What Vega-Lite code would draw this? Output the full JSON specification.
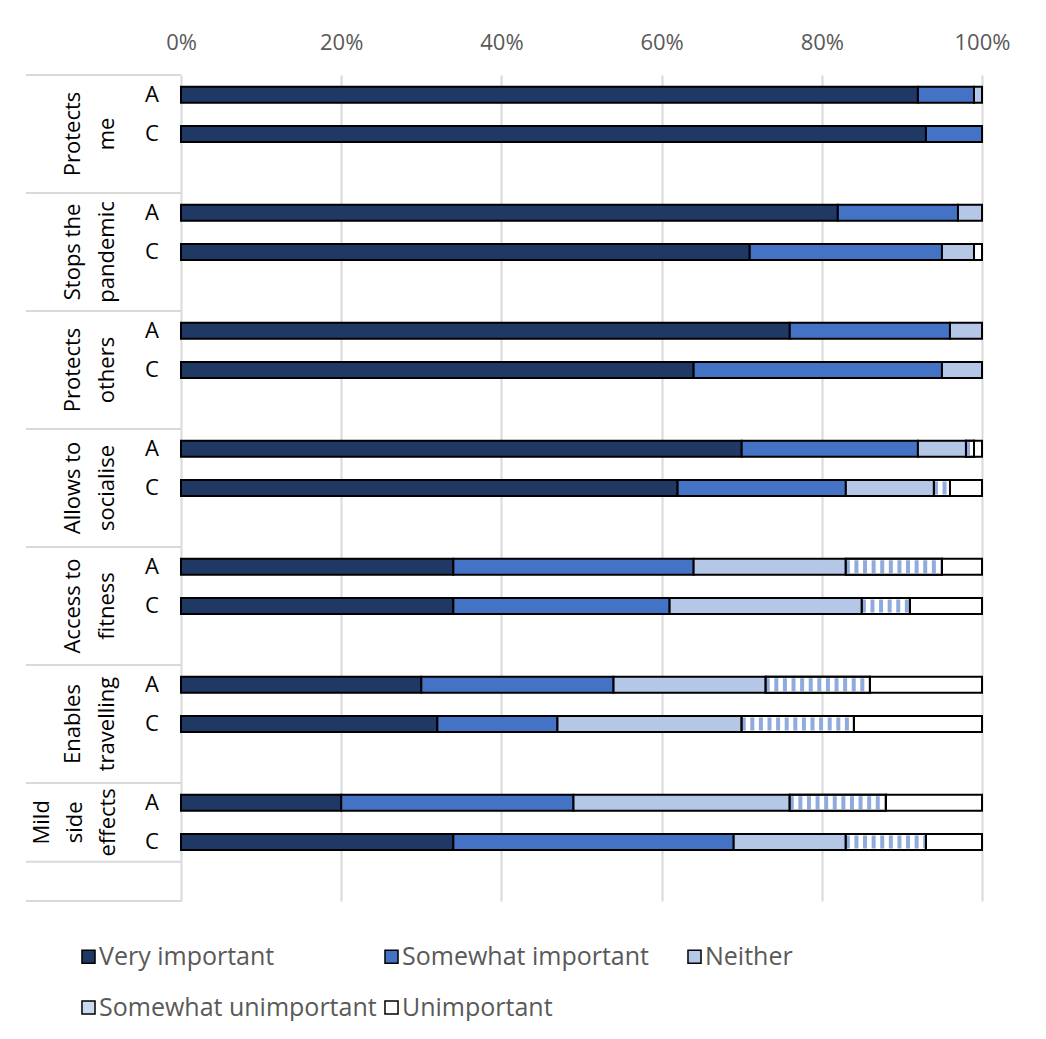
{
  "$schema": "https://vega.github.io/schema/vega-lite/v6.json",
  "background": "white",
  "padding": {"left": 25, "top": 31, "right": 0, "bottom": 0},
  "spacing": 0,
  "bounds": "flush",
  "config": {"view": {"stroke": null}, "font": "Open Sans"},
  "datasets": {
    "bars": [
      {"group": "Protects me", "set": "A", "level": "Very important", "value": 92},
      {"group": "Protects me", "set": "A", "level": "Somewhat important", "value": 7},
      {"group": "Protects me", "set": "A", "level": "Neither", "value": 1},
      {"group": "Protects me", "set": "C", "level": "Very important", "value": 93},
      {"group": "Protects me", "set": "C", "level": "Somewhat important", "value": 7},
      {"group": "Stops the pandemic", "set": "A", "level": "Very important", "value": 82},
      {"group": "Stops the pandemic", "set": "A", "level": "Somewhat important", "value": 15},
      {"group": "Stops the pandemic", "set": "A", "level": "Neither", "value": 3},
      {"group": "Stops the pandemic", "set": "C", "level": "Very important", "value": 71},
      {"group": "Stops the pandemic", "set": "C", "level": "Somewhat important", "value": 24},
      {"group": "Stops the pandemic", "set": "C", "level": "Neither", "value": 4},
      {"group": "Stops the pandemic", "set": "C", "level": "Unimportant", "value": 1},
      {"group": "Protects others", "set": "A", "level": "Very important", "value": 76},
      {"group": "Protects others", "set": "A", "level": "Somewhat important", "value": 20},
      {"group": "Protects others", "set": "A", "level": "Neither", "value": 4},
      {"group": "Protects others", "set": "C", "level": "Very important", "value": 64},
      {"group": "Protects others", "set": "C", "level": "Somewhat important", "value": 31},
      {"group": "Protects others", "set": "C", "level": "Neither", "value": 5},
      {"group": "Allows to socialise", "set": "A", "level": "Very important", "value": 70},
      {"group": "Allows to socialise", "set": "A", "level": "Somewhat important", "value": 22},
      {"group": "Allows to socialise", "set": "A", "level": "Neither", "value": 6},
      {"group": "Allows to socialise", "set": "A", "level": "Somewhat unimportant", "value": 1},
      {"group": "Allows to socialise", "set": "A", "level": "Unimportant", "value": 1},
      {"group": "Allows to socialise", "set": "C", "level": "Very important", "value": 62},
      {"group": "Allows to socialise", "set": "C", "level": "Somewhat important", "value": 21},
      {"group": "Allows to socialise", "set": "C", "level": "Neither", "value": 11},
      {"group": "Allows to socialise", "set": "C", "level": "Somewhat unimportant", "value": 2},
      {"group": "Allows to socialise", "set": "C", "level": "Unimportant", "value": 4},
      {"group": "Access to fitness", "set": "A", "level": "Very important", "value": 34},
      {"group": "Access to fitness", "set": "A", "level": "Somewhat important", "value": 30},
      {"group": "Access to fitness", "set": "A", "level": "Neither", "value": 19},
      {"group": "Access to fitness", "set": "A", "level": "Somewhat unimportant", "value": 12},
      {"group": "Access to fitness", "set": "A", "level": "Unimportant", "value": 5},
      {"group": "Access to fitness", "set": "C", "level": "Very important", "value": 34},
      {"group": "Access to fitness", "set": "C", "level": "Somewhat important", "value": 27},
      {"group": "Access to fitness", "set": "C", "level": "Neither", "value": 24},
      {"group": "Access to fitness", "set": "C", "level": "Somewhat unimportant", "value": 6},
      {"group": "Access to fitness", "set": "C", "level": "Unimportant", "value": 9},
      {"group": "Enables travelling", "set": "A", "level": "Very important", "value": 30},
      {"group": "Enables travelling", "set": "A", "level": "Somewhat important", "value": 24},
      {"group": "Enables travelling", "set": "A", "level": "Neither", "value": 19},
      {"group": "Enables travelling", "set": "A", "level": "Somewhat unimportant", "value": 13},
      {"group": "Enables travelling", "set": "A", "level": "Unimportant", "value": 14},
      {"group": "Enables travelling", "set": "C", "level": "Very important", "value": 32},
      {"group": "Enables travelling", "set": "C", "level": "Somewhat important", "value": 15},
      {"group": "Enables travelling", "set": "C", "level": "Neither", "value": 23},
      {"group": "Enables travelling", "set": "C", "level": "Somewhat unimportant", "value": 14},
      {"group": "Enables travelling", "set": "C", "level": "Unimportant", "value": 16},
      {"group": "Mild side effects", "set": "A", "level": "Very important", "value": 20},
      {"group": "Mild side effects", "set": "A", "level": "Somewhat important", "value": 29},
      {"group": "Mild side effects", "set": "A", "level": "Neither", "value": 27},
      {"group": "Mild side effects", "set": "A", "level": "Somewhat unimportant", "value": 12},
      {"group": "Mild side effects", "set": "A", "level": "Unimportant", "value": 12},
      {"group": "Mild side effects", "set": "C", "level": "Very important", "value": 34},
      {"group": "Mild side effects", "set": "C", "level": "Somewhat important", "value": 35},
      {"group": "Mild side effects", "set": "C", "level": "Neither", "value": 14},
      {"group": "Mild side effects", "set": "C", "level": "Somewhat unimportant", "value": 10},
      {"group": "Mild side effects", "set": "C", "level": "Unimportant", "value": 7}
    ],
    "rows": [
      {"group": "Protects me", "set": "A"}, {"group": "Protects me", "set": "C"},
      {"group": "Stops the pandemic", "set": "A"}, {"group": "Stops the pandemic", "set": "C"},
      {"group": "Protects others", "set": "A"}, {"group": "Protects others", "set": "C"},
      {"group": "Allows to socialise", "set": "A"}, {"group": "Allows to socialise", "set": "C"},
      {"group": "Access to fitness", "set": "A"}, {"group": "Access to fitness", "set": "C"},
      {"group": "Enables travelling", "set": "A"}, {"group": "Enables travelling", "set": "C"},
      {"group": "Mild side effects", "set": "A"}, {"group": "Mild side effects", "set": "C"}
    ],
    "groups": [
      {"group": "Protects me", "label": "Protects\nme"},
      {"group": "Stops the pandemic", "label": "Stops the\npandemic"},
      {"group": "Protects others", "label": "Protects\nothers"},
      {"group": "Allows to socialise", "label": "Allows to\nsocialise"},
      {"group": "Access to fitness", "label": "Access to\nfitness"},
      {"group": "Enables travelling", "label": "Enables\ntravelling"},
      {"group": "Mild side effects", "label": "Mild\nside\neffects"}
    ]
  },
  "hconcat": [
    {
      "width": 155,
      "height": 826,
      "layer": [
        {
          "data": {"name": "groups"},
          "transform": [{"calculate": "datum.group + ' A'", "as": "key"}],
          "mark": {"type": "rule", "stroke": "#D9D9D9", "strokeWidth": 2},
          "encoding": {
            "y": {"field": "key", "type": "nominal", "bandPosition": 0, "axis": null,
              "scale": {"type": "band", "paddingInner": 0, "paddingOuter": 0, "domain": ["Protects me A","Protects me C","Protects me gap","Stops the pandemic A","Stops the pandemic C","Stops the pandemic gap","Protects others A","Protects others C","Protects others gap","Allows to socialise A","Allows to socialise C","Allows to socialise gap","Access to fitness A","Access to fitness C","Access to fitness gap","Enables travelling A","Enables travelling C","Enables travelling gap","Mild side effects A","Mild side effects C","Mild side effects gap"]}}
          }
        },
        {
          "data": {"name": "groups"},
          "transform": [{"filter": "datum.group === 'Mild side effects'"}, {"calculate": "datum.group + ' gap'", "as": "key"}],
          "mark": {"type": "rule", "stroke": "#D9D9D9", "strokeWidth": 2},
          "encoding": {"y": {"field": "key", "type": "nominal", "bandPosition": 0, "axis": null}}
        },
        {
          "data": {"name": "groups"},
          "transform": [{"filter": "datum.group === 'Mild side effects'"}, {"calculate": "datum.group + ' gap'", "as": "key"}],
          "mark": {"type": "rule", "stroke": "#D9D9D9", "strokeWidth": 2},
          "encoding": {"y": {"field": "key", "type": "nominal", "bandPosition": 1, "axis": null}}
        },
        {
          "data": {"name": "rows"},
          "transform": [{"calculate": "datum.group + ' ' + datum.set", "as": "key"}],
          "mark": {"type": "text", "fontSize": 22, "font": "Open Sans", "color": "black", "align": "center", "baseline": "middle"},
          "encoding": {
            "y": {"field": "key", "type": "nominal", "axis": null},
            "x": {"datum": "set", "type": "nominal", "axis": null, "scale": {"type": "point", "padding": 0, "domain": ["group", "set"], "range": [59, 126]}},
            "text": {"field": "set"}
          }
        },
        {
          "data": {"name": "groups"},
          "transform": [{"filter": "datum.group !== 'Mild side effects'"}, {"calculate": "datum.group + ' C'", "as": "key"}],
          "mark": {"type": "text", "fontSize": 22, "font": "Open Sans", "color": "black", "align": "center", "baseline": "bottom", "angle": 270, "lineBreak": "\n", "lineHeight": 34},
          "encoding": {
            "y": {"field": "key", "type": "nominal", "bandPosition": 0.5, "axis": null},
            "x": {"datum": "group", "type": "nominal", "axis": null},
            "text": {"field": "label"}
          }
        },
        {
          "data": {"name": "groups"},
          "transform": [{"filter": "datum.group === 'Mild side effects'"}, {"calculate": "datum.group + ' C'", "as": "key"}],
          "mark": {"type": "text", "fontSize": 22, "font": "Open Sans", "color": "black", "align": "center", "baseline": "bottom", "angle": 270, "lineBreak": "\n", "lineHeight": 33, "dy": -31},
          "encoding": {
            "y": {"field": "key", "type": "nominal", "bandPosition": 0, "axis": null},
            "x": {"datum": "group", "type": "nominal", "axis": null},
            "text": {"field": "label"}
          }
        }
      ]
    },
    {
      "width": 801,
      "height": 826,
      "data": {"name": "bars"},
      "transform": [
        {"calculate": "datum.group + ' ' + datum.set", "as": "key"},
        {"calculate": "indexof(['Very important','Somewhat important','Neither','Somewhat unimportant','Unimportant'], datum.level)", "as": "order"},
        {"stack": "value", "groupby": ["key"], "sort": [{"field": "order", "order": "ascending"}], "as": ["v0", "v1"]}
      ],
      "encoding": {
        "y": {"field": "key", "type": "nominal", "axis": null,
          "scale": {"type": "band", "paddingInner": 0, "paddingOuter": 0, "domain": ["Protects me A","Protects me C","Protects me gap","Stops the pandemic A","Stops the pandemic C","Stops the pandemic gap","Protects others A","Protects others C","Protects others gap","Allows to socialise A","Allows to socialise C","Allows to socialise gap","Access to fitness A","Access to fitness C","Access to fitness gap","Enables travelling A","Enables travelling C","Enables travelling gap","Mild side effects A","Mild side effects C","Mild side effects gap"]}},
        "x": {"field": "v0", "type": "quantitative",
          "scale": {"domain": [0, 100], "nice": false, "zero": true},
          "axis": {"orient": "top", "title": null, "values": [0, 20, 40, 60, 80, 100], "labelExpr": "datum.value + '%'", "grid": true, "gridColor": "#D9D9D9", "gridWidth": 2, "domain": false, "ticks": false, "tickSize": 0, "labelPadding": 21, "labelFontSize": 22, "labelFont": "Open Sans", "labelColor": "#595959", "labelFlush": false, "labelOverlap": false}},
        "x2": {"field": "v1"}
      },
      "layer": [
        {
          "mark": {"type": "bar", "size": 16, "stroke": "black", "strokeWidth": 2},
          "encoding": {
            "fill": {"field": "level", "type": "nominal",
              "scale": {"domain": ["Very important", "Somewhat important", "Neither", "Somewhat unimportant", "Unimportant"], "range": ["#203864", "#4472C4", "#B4C7E7", "#CDD9EF", "#FFFFFF"]},
              "legend": {"orient": "none", "legendX": 50, "legendY": 869, "columns": 3, "direction": "horizontal", "title": null, "symbolType": "square", "symbolSize": 170, "symbolStrokeColor": "black", "symbolStrokeWidth": 1.5, "labelFontSize": 25, "labelFont": "Open Sans", "labelColor": "#595959", "labelOffset": -2, "columnPadding": 2, "rowPadding": 25, "gridAlign": "all", "labelLimit": 400, "padding": 0}}
          }
        },
        {
          "transform": [{"filter": "datum.level === 'Somewhat unimportant'"}],
          "mark": {"type": "rule", "stroke": "#FFFFFF", "strokeWidth": 14},
          "encoding": {}
        },
        {
          "transform": [{"filter": "datum.level === 'Somewhat unimportant'"}],
          "mark": {"type": "rule", "stroke": "#8FAADC", "strokeWidth": 13, "strokeDash": [4, 4.6]},
          "encoding": {}
        },
        {
          "transform": [{"filter": "datum.level === 'Somewhat unimportant'"}],
          "mark": {"type": "bar", "size": 16, "stroke": "black", "strokeWidth": 2, "fillOpacity": 0, "fill": "white"},
          "encoding": {}
        }
      ]
    }
  ]
}
